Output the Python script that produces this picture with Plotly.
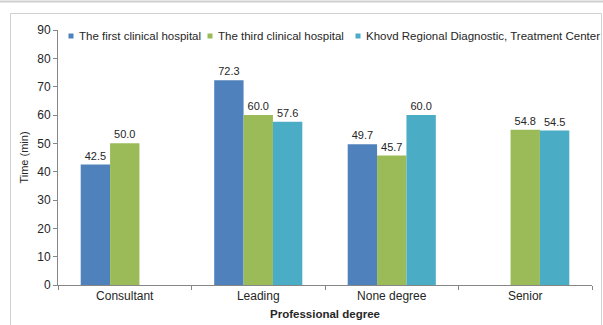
import plotly.graph_objects as go

# Consultation time by professional degree, per hospital
categories = ["Consultant", "Leading", "None degree", "Senior"]
series_names = [
    "The first clinical hospital",
    "The third clinical hospital",
    "Khovd Regional Diagnostic, Treatment Center",
]
first_hospital = [42.5, 72.3, 49.7, None]
third_hospital = [50.0, 60.0, 45.7, 54.8]
khovd_center = [None, 57.6, 60.0, 54.5]
y_ticks = [0, 10, 20, 30, 40, 50, 60, 70, 80, 90]

colors = ["#4F81BD", "#9BBB59", "#4BACC6"]
values = [first_hospital, third_hospital, khovd_center]

W, H = 603, 325
M_L, M_R, M_T, M_B = 58, 11, 30, 40
PW, PH = W - M_L - M_R, H - M_T - M_B


def px_x(px):
    return (px - M_L) / PW


def px_y(py):
    return (H - M_B - py) / PH


FONT = "Liberation Sans, Arial, sans-serif"
TEXT = "#262626"
AXIS = "#868686"

fig = go.Figure()
for name, vals, col in zip(series_names, values, colors):
    fig.add_trace(go.Bar(
        x=categories, y=vals, name=name, marker_color=col,
        marker_line_width=0,
        texttemplate="%{y:.1f}", textposition="outside",
        textfont=dict(size=11, color=TEXT, family=FONT),
        cliponaxis=False, showlegend=False,
    ))

# Legend row drawn as small squares with labels
legend_marker_px = [71, 210, 358]
legend_text_px = [77, 216, 364]
shapes = []
annotations = []
for name, col, mx, tx in zip(series_names, colors, legend_marker_px, legend_text_px):
    shapes.append(dict(type="rect", xref="paper", yref="paper",
                       x0=px_x(mx - 2.5), x1=px_x(mx + 2.5),
                       y0=px_y(36 + 2.5), y1=px_y(36 - 2.5),
                       fillcolor=col, line_width=0))
    annotations.append(dict(text=name, xref="paper", yref="paper",
                            x=px_x(tx), y=px_y(36), xanchor="left", yanchor="middle",
                            showarrow=False,
                            font=dict(size=11.5, color=TEXT, family=FONT)))

# Outer chart frame and top rule
shapes.append(dict(type="rect", xref="paper", yref="paper",
                   x0=px_x(10.5), x1=px_x(601.5), y0=px_y(13.5), y1=px_y(340),
                   line=dict(color="#d0d0d0", width=1), fillcolor="rgba(0,0,0,0)"))
shapes.append(dict(type="line", xref="paper", yref="paper",
                   x0=px_x(0), x1=px_x(603), y0=px_y(1.5), y1=px_y(1.5),
                   line=dict(color="#cfcfcf", width=2)))

fig.update_layout(
    width=W, height=H,
    margin=dict(l=M_L, r=M_R, t=M_T, b=M_B),
    paper_bgcolor="white", plot_bgcolor="white",
    barmode="group", bargap=0.34, bargroupgap=0,
    font=dict(family=FONT, color=TEXT),
    shapes=shapes, annotations=annotations,
    showlegend=False,
)
fig.update_xaxes(
    automargin=False,
    showline=True, linecolor=AXIS, linewidth=1,
    ticks="outside", tickson="boundaries", ticklen=4, tickcolor=AXIS,
    tickfont=dict(size=12, color=TEXT, family=FONT),
    title=dict(text="<b>Professional degree</b>", font=dict(size=11.5, color=TEXT, family=FONT),
               standoff=7),
    showgrid=False,
)
fig.update_yaxes(
    automargin=False,
    range=[0, 90], tickvals=y_ticks,
    showline=True, linecolor=AXIS, linewidth=1,
    ticks="outside", ticklen=4, tickcolor=AXIS,
    tickfont=dict(size=12, color=TEXT, family=FONT),
    title=dict(text="Time (min)", font=dict(size=11, color=TEXT, family=FONT), standoff=6),
    showgrid=False, zeroline=False,
)

fig.write_html("out.html")
